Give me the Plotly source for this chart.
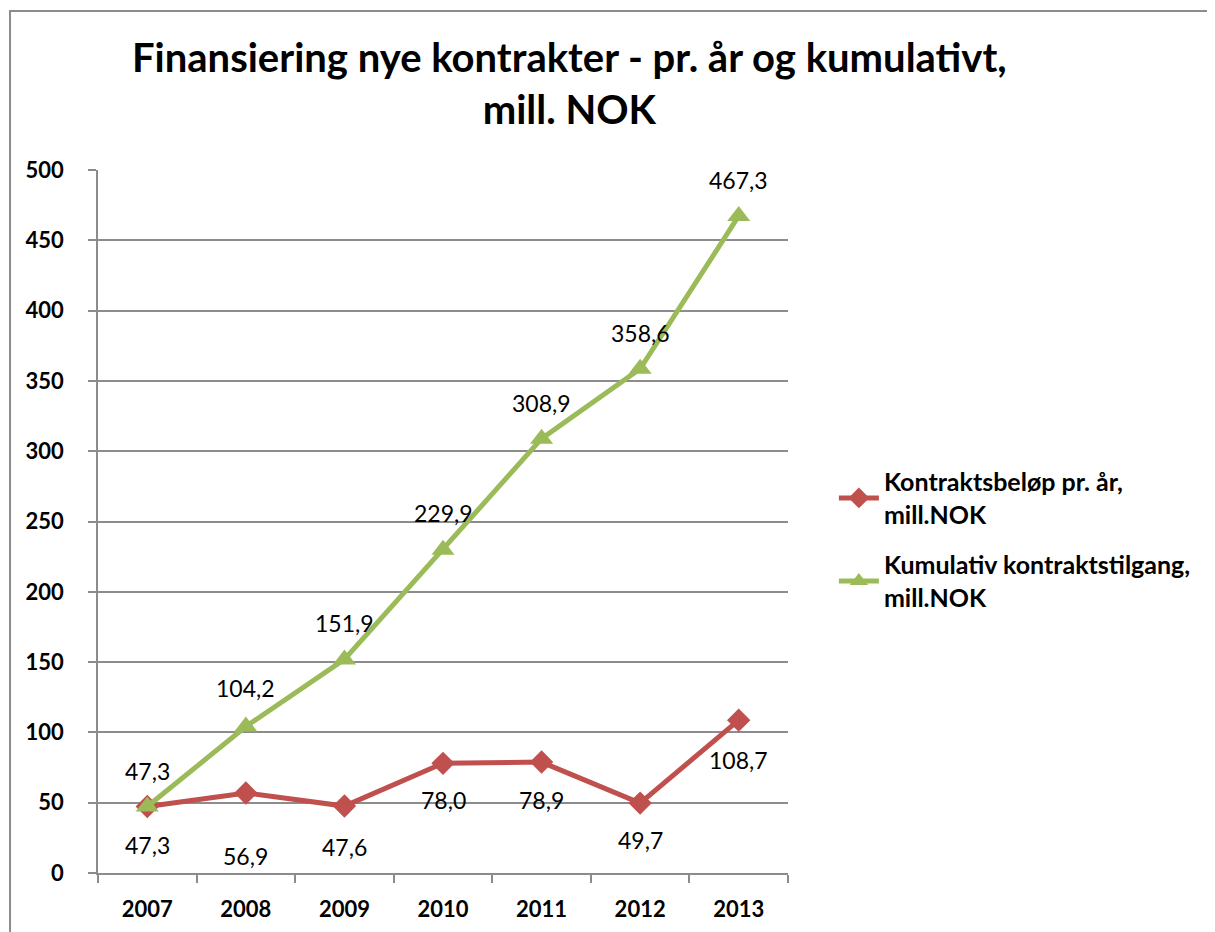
import plotly.graph_objects as go

# ── Data ──────────────────────────────────────────────────────────────────────
years = ["2007", "2008", "2009", "2010", "2011", "2012", "2013"]
per_year = [47.3, 56.9, 47.6, 78.0, 78.9, 49.7, 108.7]
cumulative = [47.3, 104.2, 151.9, 229.9, 308.9, 358.6, 467.3]
y_ticks = [0, 50, 100, 150, 200, 250, 300, 350, 400, 450, 500]

name_per_year = "Kontraktsbeløp pr. år,<br>mill.NOK"
name_cumulative = "Kumulativ kontraktstilgang,<br>mill.NOK"
title_text = "Finansiering nye kontrakter - pr. år og kumulativt,<br>mill. NOK"

# ── Style ─────────────────────────────────────────────────────────────────────
RED = "#C0504D"
GREEN = "#9BBB59"
GRID = "#8C8C8C"
FONT = "Lato, 'Open Sans', sans-serif"

red_shift = [-38, -63, -41, -37, -38, -37, -40]
green_shift = [36, 38, 36, 37, 36, 36, 36]


def fmt(v):
    return f"{v:.1f}".replace(".", ",")


fig = go.Figure()

fig.add_trace(go.Scatter(
    x=years, y=per_year, mode="lines+markers", name=name_per_year,
    legendgroup="a",
    line=dict(color=RED, width=5),
    marker=dict(symbol="diamond", size=18, color=RED),
))
fig.add_trace(go.Scatter(
    x=years, y=cumulative, mode="lines+markers", name=name_cumulative,
    legendgroup="b",
    line=dict(color=GREEN, width=5),
    marker=dict(symbol="triangle-up", size=20, color=GREEN),
))

# data labels, placed by category index on the x axis
annotations = []
for i, (v, s) in enumerate(zip(per_year, red_shift)):
    annotations.append(dict(x=i, y=v, xref="x", yref="y", text=fmt(v),
                            showarrow=False, yshift=s,
                            font=dict(size=23, color="#000000", family=FONT)))
for i, (v, s) in enumerate(zip(cumulative, green_shift)):
    annotations.append(dict(x=i, y=v, xref="x", yref="y", text=fmt(v),
                            showarrow=False, yshift=s,
                            font=dict(size=23, color="#000000", family=FONT)))

# the page body adds an 8px offset, so margins are reduced by that amount
fig.update_layout(
    width=1215, height=932,
    paper_bgcolor="#FFFFFF", plot_bgcolor="#FFFFFF",
    font=dict(family=FONT, color="#000000"),
    title=dict(
        text=f"<b>{title_text}</b>",
        font=dict(size=40, family=FONT, color="#000000"),
        x=0.462, xanchor="center", y=0.931, yanchor="top",
    ),
    margin=dict(l=90, r=435, t=162, b=67),
    showlegend=True,
    legend=dict(
        x=1.0665, y=0.589, xanchor="left", yanchor="top",
        font=dict(size=25, family=FONT, color="#000000", weight="bold"),
        bgcolor="rgba(0,0,0,0)", traceorder="grouped", tracegroupgap=15,
        itemwidth=40,
    ),
    xaxis=dict(
        type="category", tickson="boundaries", range=[-0.5, 6.5],
        automargin=False,
        showgrid=False, showline=True, linecolor=GRID, linewidth=1.5,
        ticks="outside", ticklen=8, tickcolor=GRID, tickwidth=1.5,
        tickfont=dict(size=22, family=FONT, weight="bold", color="#000000"),
        ticklabelstandoff=16,
    ),
    yaxis=dict(
        range=[0, 500], tickvals=y_ticks, automargin=False,
        showgrid=True, gridcolor=GRID, gridwidth=1.5,
        showline=True, linecolor=GRID, linewidth=1.5, zeroline=False,
        ticks="outside", ticklen=8, tickcolor=GRID, tickwidth=1.5,
        tickfont=dict(size=22, family=FONT, weight="bold", color="#000000"),
        ticklabelstandoff=20,
    ),
    annotations=annotations,
    shapes=[dict(
        type="rect", xref="paper", yref="paper",
        x0=-0.1275, x1=1.65, y0=-0.2, y1=1.226,
        line=dict(color="#8C8C8C", width=2), fillcolor="rgba(0,0,0,0)",
        layer="below",
    )],
)

fig.write_html("out.html")
